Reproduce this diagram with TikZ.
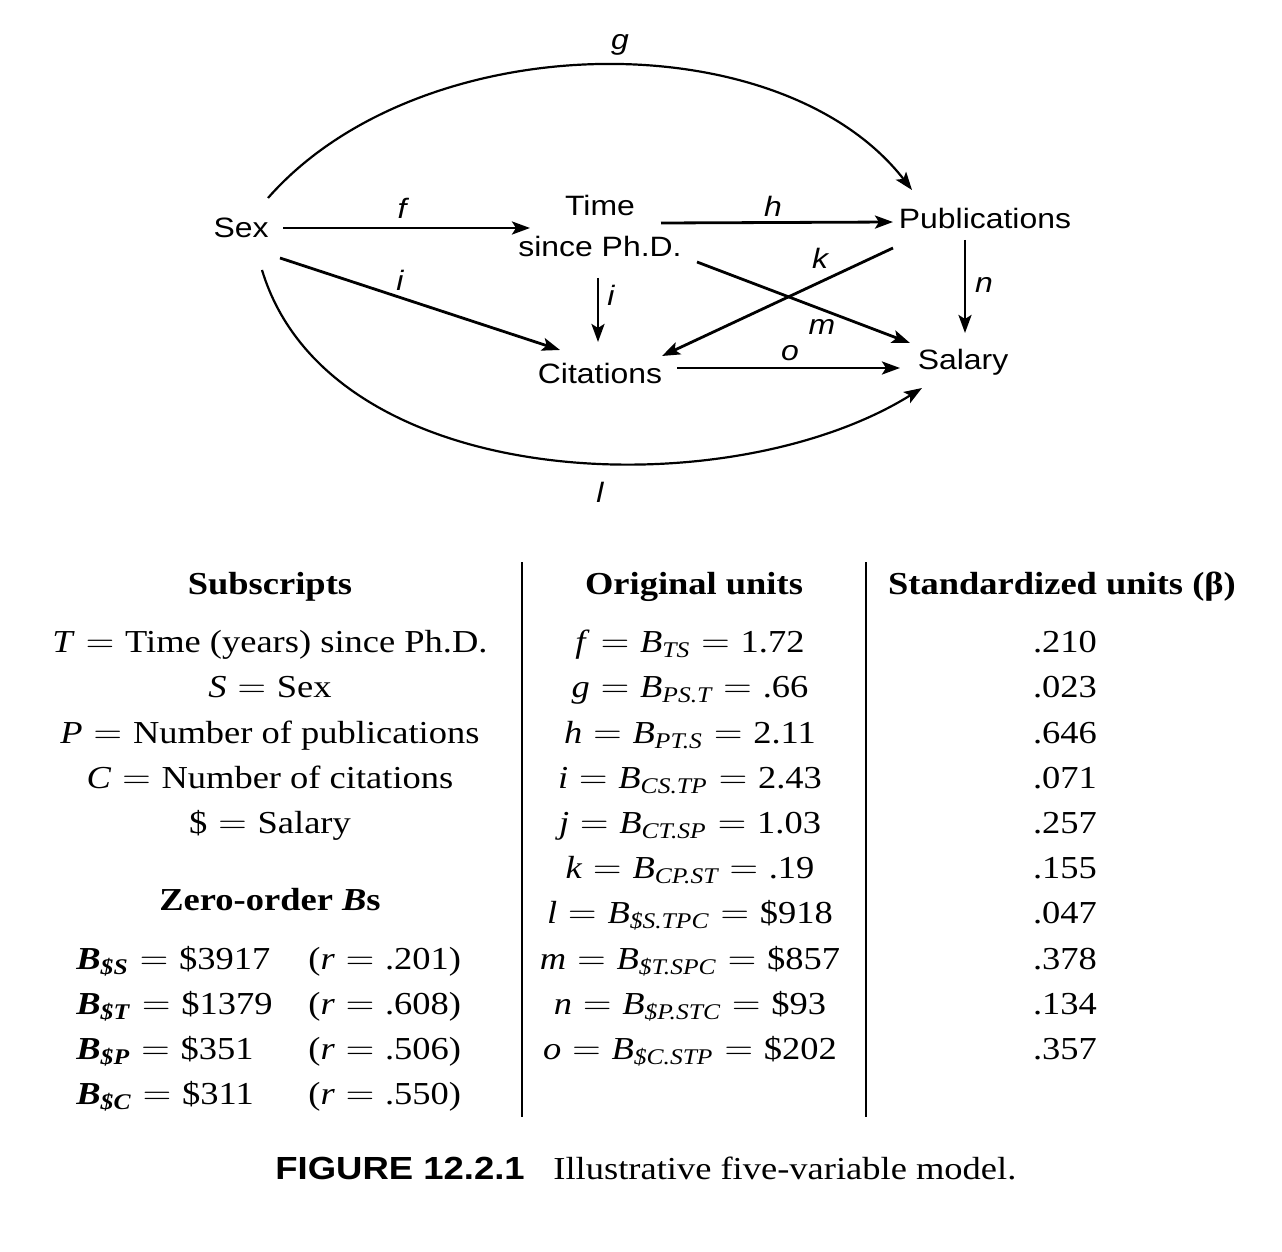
\documentclass[tikz,border=0pt]{standalone}
\usepackage{amsmath}
\usepackage{graphicx}
\usepackage{fontspec}
\setmainfont{Liberation Serif}
\setsansfont{Liberation Sans}
\usetikzlibrary{arrows.meta}
\newcommand\hs[1]{\scalebox{1.14}[1]{#1}}
\newcommand\eqs{\ensuremath{{}={}}}
\newcommand\Bv[1]{\textit{B}\ensuremath{_{\textit{#1}}}}
\newcommand\Bb[1]{\textbf{\textit{B}}\ensuremath{_{\textbf{\textit{#1}}}}}
\begin{document}
\begin{tikzpicture}[x=0.5pt,y=-0.5pt,
  vlab/.style={font=\sffamily\fontsize{14}{20.5}\selectfont, inner sep=0pt, align=center},
  elab/.style={font=\sffamily\itshape\fontsize{14}{17}\selectfont, inner sep=0pt},
  txt/.style={font=\fontsize{16}{19}\selectfont, inner sep=0pt, anchor=base},
  arr/.style={line width=1.4pt, -{Stealth[length=9pt,width=6.5pt,inset=2pt]}},
  carr/.style={line width=1.1pt, -{Stealth[length=9pt,width=6.5pt,inset=2pt]}},
  rulel/.style={line width=1pt}]
\useasboundingbox (0,0) rectangle (1282,1252);
\fill[white] (0,0) rectangle (1282,1252);
% variables
\node[vlab, anchor=base] (sex) at (241,238) {\hs{Sex}};
\node[vlab] (time) at (600,226) {\hs{Time}\\\hs{since Ph.D.}};
\node[vlab, anchor=base] (pub) at (985,229) {\hs{Publications}};
\node[vlab, anchor=base] (cit) at (600,383) {\hs{Citations}};
\node[vlab, anchor=base] (sal) at (963,370) {\hs{Salary}};
% connectors
\draw[arr] ([shift={(42,-10)}]sex.base) -- ([shift={(-70,2)}]time.center);
\draw[arr] ([shift={(61,-3)}]time.center) -- ([shift={(-92,-7)}]pub.base);
\draw[arr] ([shift={(39,20)}]sex.base) -- ([shift={(-40,-33)}]cit.base);
\draw[arr] ([shift={(-2,52)}]time.center) -- ([shift={(-2,-41)}]cit.base);
\draw[arr] ([shift={(97,36)}]time.center) -- ([shift={(-53,-27)}]sal.base);
\draw[arr] ([shift={(-92,19)}]pub.base) -- ([shift={(62,-27)}]cit.base);
\draw[arr] ([shift={(-20,11)}]pub.base) -- ([shift={(2,-37)}]sal.base);
\draw[arr] ([shift={(77,-15)}]cit.base) -- ([shift={(-63,-2)}]sal.base);
\draw[carr] ([shift={(27,-40)}]sex.base) .. controls (420,25) and (780,20) .. ([shift={(-73,-39)}]pub.base);
\draw[carr] ([shift={(21,32)}]sex.base) .. controls (330,495) and (730,508) .. ([shift={(-41,18)}]sal.base);
% connector labels
\node[elab] (lg) at (620,45) {\hs{g}};
\node[elab] (lf) at (402,208) {\hs{f}};
\node[elab] (lh) at (773,206) {\hs{h}};
\node[elab] (lk) at (820,258) {\hs{k}};
\node[elab] (li) at (400,280) {\hs{i}};
\node[elab] (lj) at (611,295) {\hs{i}};
\node[elab] (lm) at (822,327) {\hs{m}};
\node[elab] (ln) at (984,285) {\hs{n}};
\node[elab] (lo) at (790,353) {\hs{o}};
\node[elab] (ll) at (600,492) {\hs{l}};
% column rules
\draw[rulel] (522,562) -- (522,1117);
\draw[rulel] (866,562) -- (866,1117);
% headers
\node[txt] (h1) at (270,594) {\hs{\textbf{Subscripts}}};
\node[txt] (h2) at (694,594) {\hs{\textbf{Original units}}};
\node[txt] (h3) at (1062,594) {\hs{\textbf{Standardized units (β)}}};
% subscripts
\node[txt] (s1) at (270,652) {\hs{\textit{T}\eqs Time (years) since Ph.D.}};
\node[txt] (s2) at (270,697) {\hs{\textit{S}\eqs Sex}};
\node[txt] (s3) at (270,743) {\hs{\textit{P}\eqs Number of publications}};
\node[txt] (s4) at (270,788) {\hs{\textit{C}\eqs Number of citations}};
\node[txt] (s5) at (270,833) {\hs{\$\eqs Salary}};
% zero-order
\node[txt] (z0) at (270,910) {\hs{\textbf{Zero-order \textit{B}s}}};
\node[txt, anchor=base west] (z1) at (76,969) {\hs{\Bb{\$S}\eqs\$3917}};
\node[txt, anchor=base west] (z2) at (76,1014) {\hs{\Bb{\$T}\eqs\$1379}};
\node[txt, anchor=base west] (z3) at (76,1059) {\hs{\Bb{\$P}\eqs\$351}};
\node[txt, anchor=base west] (z4) at (76,1104) {\hs{\Bb{\$C}\eqs\$311}};
\node[txt, anchor=base west] (r1) at (308,969) {\hs{(\textit{r}\eqs .201)}};
\node[txt, anchor=base west] (r2) at (308,1014) {\hs{(\textit{r}\eqs .608)}};
\node[txt, anchor=base west] (r3) at (308,1059) {\hs{(\textit{r}\eqs .506)}};
\node[txt, anchor=base west] (r4) at (308,1104) {\hs{(\textit{r}\eqs .550)}};
% original units
\node[txt] (o1) at (690,652) {\hs{\textit{f}\eqs\Bv{TS}\eqs 1.72}};
\node[txt] (o2) at (690,697) {\hs{\textit{g}\eqs\Bv{PS.T}\eqs .66}};
\node[txt] (o3) at (690,743) {\hs{\textit{h}\eqs\Bv{PT.S}\eqs 2.11}};
\node[txt] (o4) at (690,788) {\hs{\textit{i}\eqs\Bv{CS.TP}\eqs 2.43}};
\node[txt] (o5) at (690,833) {\hs{\textit{j}\eqs\Bv{CT.SP}\eqs 1.03}};
\node[txt] (o6) at (690,878) {\hs{\textit{k}\eqs\Bv{CP.ST}\eqs .19}};
\node[txt] (o7) at (690,923) {\hs{\textit{l}\eqs\Bv{\$S.TPC}\eqs\$918}};
\node[txt] (o8) at (690,969) {\hs{\textit{m}\eqs\Bv{\$T.SPC}\eqs\$857}};
\node[txt] (o9) at (690,1014) {\hs{\textit{n}\eqs\Bv{\$P.STC}\eqs\$93}};
\node[txt] (o10) at (690,1059) {\hs{\textit{o}\eqs\Bv{\$C.STP}\eqs\$202}};
% standardized
\node[txt] (b1) at (1065,652) {\hs{.210}};
\node[txt] (b2) at (1065,697) {\hs{.023}};
\node[txt] (b3) at (1065,743) {\hs{.646}};
\node[txt] (b4) at (1065,788) {\hs{.071}};
\node[txt] (b5) at (1065,833) {\hs{.257}};
\node[txt] (b6) at (1065,878) {\hs{.155}};
\node[txt] (b7) at (1065,923) {\hs{.047}};
\node[txt] (b8) at (1065,969) {\hs{.378}};
\node[txt] (b9) at (1065,1014) {\hs{.134}};
\node[txt] (b10) at (1065,1059) {\hs{.357}};
% caption
\node[txt, anchor=base west, font=\sffamily\bfseries\fontsize{16}{19}\selectfont] (cap1) at (275,1179) {\hs{FIGURE 12.2.1}};
\node[txt, anchor=base west] (cap2) at (553,1179) {\hs{Illustrative five-variable model.}};
\end{tikzpicture}
\end{document}
